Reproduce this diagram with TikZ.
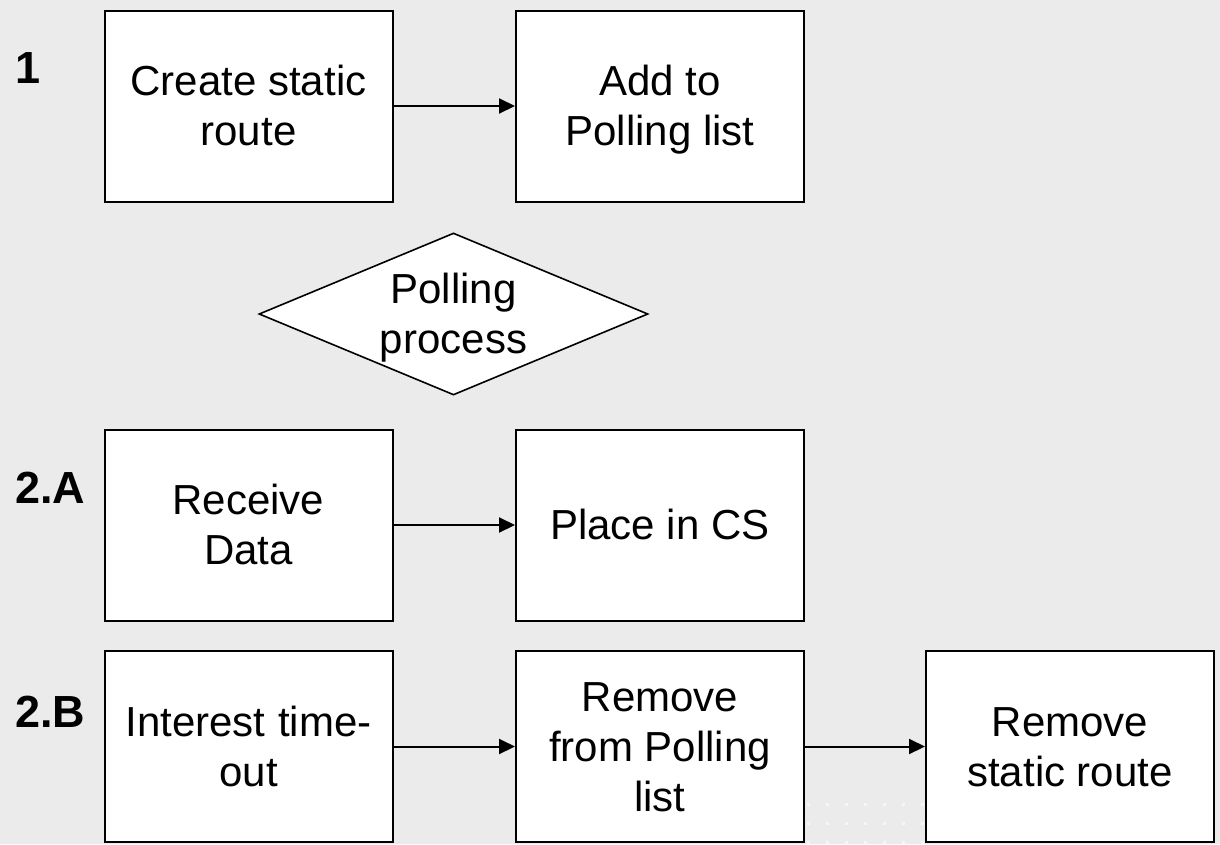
\documentclass[tikz,border=0pt]{standalone}
\usepackage{fontspec}
\setmainfont{Liberation Sans}
\usetikzlibrary{shapes.geometric,arrows.meta}
\definecolor{pagebg}{HTML}{EBEBEB}
\definecolor{dotc}{HTML}{F6F6F6}
% line box of fixed ascent and descent, so that every text block is centred
% on its lines rather than on its ink
\newcommand\lnstrut{\rule[-9pt]{0pt}{47pt}}
\tikzset{
  stepbox/.style={draw=black, fill=white, line width=2pt, rectangle,
    minimum width=288pt, minimum height=191pt, inner sep=0pt, align=center,
    font=\fontsize{42}{50}\selectfont},
  decision/.style={draw=black, fill=white, line width=1.6pt, diamond,
    aspect=2.4, minimum width=389pt, minimum height=162pt, inner sep=0pt,
    align=center, font=\fontsize{42}{50}\selectfont},
  phase/.style={anchor=west, inner sep=0pt, font=\fontsize{45}{50}\selectfont\bfseries},
  flow/.style={draw=black, line width=2pt, -{Triangle[length=16pt,width=15pt]}}
}
\begin{document}
\begin{tikzpicture}[x=1pt,y=-1pt]
  % page and its faint dot pattern
  \fill[pagebg] (0,0) rectangle (1220,844);
  \useasboundingbox (0,0) rectangle (1220,844);
  \foreach \i in {0,...,6}
    \foreach \j in {0,1,2}
      \fill[dotc] (806.5+19*\i,802.5+19*\j) rectangle ++(3,3);

  % phase labels
  \node[phase] (l1)  at (15,68)  {1};
  \node[phase] (l2a) at (15,488) {2.A};
  \node[phase] (l2b) at (15,712) {2.B};

  % phase 1
  \node[stepbox] (create) at (248.5,106) {\lnstrut Create static\\\lnstrut route};
  \node[stepbox] (add)    at (660,106)   {\lnstrut Add to\\\lnstrut Polling list};

  % polling
  \node[decision] (poll) at (453.5,314) {\lnstrut Polling\\\lnstrut process};

  % phase 2.A
  \node[stepbox] (recv)  at (248.5,525) {\lnstrut Receive\\\lnstrut Data};
  \node[stepbox] (place) at (660,525)   {\lnstrut Place in CS};

  % phase 2.B
  \node[stepbox] (tout)   at (248.5,746.5) {\lnstrut Interest\hspace{0.3em}time-\\\lnstrut out};
  \node[stepbox] (rmpoll) at (660,746.5)   {\lnstrut Remove\\\lnstrut from Polling\\\lnstrut list};
  \node[stepbox] (rmsr)   at (1070,746.5)  {\lnstrut Remove\\\lnstrut static route};

  % connectors
  \draw[flow] (create) -- (add);
  \draw[flow] (recv) -- (place);
  \draw[flow] (tout) -- (rmpoll);
  \draw[flow] (rmpoll) -- (rmsr);
\end{tikzpicture}
\end{document}
